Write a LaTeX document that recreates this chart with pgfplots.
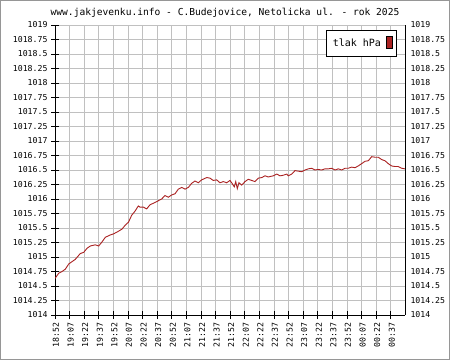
\documentclass[border=0pt]{standalone}
\usepackage{pgfplots}
\pgfplotsset{compat=1.18}
\usepackage{fontspec}
\setmainfont{DejaVu Sans Mono}
\setmonofont{DejaVu Sans Mono}
\definecolor{lred}{RGB}{170,34,34}
\definecolor{gridg}{RGB}{192,192,192}
\definecolor{frameg}{RGB}{150,150,150}
\begin{document}
\begin{tikzpicture}[x=1pt,y=1pt]
\draw[draw=frameg, line width=1pt, fill=white] (0.5,0.5) rectangle (449.5,359.5);
\node[font=\fontsize{9.6}{10}\selectfont] at (225,347) {www.jakjevenku.info - C.Budejovice, Netolicka ul. - rok 2025};
\begin{axis}[
  at={(55pt,45pt)}, anchor=south west,
  scale only axis, width=350pt, height=290pt,
  xmin=0, xmax=359.6, ymin=1014, ymax=1019,
  axis x line=bottom, axis y line=left,
  axis line style={-, line width=1pt, black},
  grid=major, major grid style={gridg, line width=0.9pt},
  xtick={0,15,30,45,60,75,90,105,120,135,150,165,180,195,210,225,240,255,270,285,300,315,330,345},
  xticklabels={18:52,19:07,19:22,19:37,19:52,20:07,20:22,20:37,20:52,21:07,21:22,21:37,21:52,22:07,22:22,22:37,22:52,23:07,23:22,23:37,23:52,00:07,00:22,00:37},
  ytick={1014,1014.25,1014.5,1014.75,1015,1015.25,1015.5,1015.75,1016,1016.25,1016.5,1016.75,1017,1017.25,1017.5,1017.75,1018,1018.25,1018.5,1018.75,1019},
  yticklabels={1014,1014.25,1014.5,1014.75,1015,1015.25,1015.5,1015.75,1016,1016.25,1016.5,1016.75,1017,1017.25,1017.5,1017.75,1018,1018.25,1018.5,1018.75,1019},
  tick align=center, major tick length=8pt,
  tick style={black, line width=0.9pt},
  xticklabel style={rotate=90, anchor=east, font=\fontsize{8.2}{9}\selectfont},
  yticklabel style={font=\fontsize{8.2}{9}\selectfont},
  x tick label style={yshift=-1pt},
  legend style={at={(0.977,0.983)}, anchor=north east, draw=black, line width=0.8pt,
    inner xsep=4pt, inner ysep=6pt, font=\fontsize{10}{11}\selectfont,
    /tikz/every odd column/.append style={column sep=3pt}},
  legend plot pos=right,
  legend image code/.code={\draw[black, line width=0.6pt, fill=lred] (0pt,-5pt) rectangle (6pt,7pt);},
]
\addplot[lred, line width=0.9pt] coordinates {
(0,1014.63)(3.8,1014.72)(7.2,1014.75)(10.6,1014.79)(14.1,1014.88)(17.5,1014.92)(20.9,1014.96)
(26.0,1015.06)(29.5,1015.08)(32.9,1015.15)(36.3,1015.19)(41.4,1015.21)(44.9,1015.19)(48.3,1015.26)
(51.7,1015.34)(56.8,1015.38)(60.3,1015.40)(63.7,1015.43)(68.8,1015.48)(72.2,1015.55)(75.5,1015.60)
(78.8,1015.72)(82.2,1015.79)(85.6,1015.88)(87.3,1015.86)(90.7,1015.86)(94.2,1015.83)(97.6,1015.90)
(102.7,1015.94)(106.1,1015.97)(109.6,1016.00)(113.0,1016.06)(116.4,1016.03)(119.9,1016.07)(123.3,1016.09)
(126.7,1016.17)(130.2,1016.20)(133.6,1016.17)(137.0,1016.20)(140.4,1016.27)(143.8,1016.31)(147.2,1016.28)
(150.7,1016.33)(155.9,1016.37)(159.2,1016.36)(162.6,1016.32)(166.1,1016.33)(169.5,1016.28)(172.9,1016.30)
(176.4,1016.28)(179.8,1016.32)(181.5,1016.28)(184.2,1016.21)(185.7,1016.30)(187.3,1016.18)(189.0,1016.28)
(191.8,1016.24)(195.2,1016.30)(198.6,1016.34)(202.1,1016.32)(205.5,1016.30)(208.9,1016.36)(212.4,1016.37)
(215.8,1016.40)(219.1,1016.38)(224.3,1016.40)(227.8,1016.43)(231.2,1016.40)(234.6,1016.41)(238.1,1016.43)
(239.7,1016.40)(243.2,1016.43)(246.6,1016.49)(250.0,1016.48)(253.5,1016.47)(256.9,1016.50)(260.3,1016.52)
(263.7,1016.53)(267.1,1016.50)(270.5,1016.51)(274.0,1016.50)(277.4,1016.52)(280.8,1016.52)(284.3,1016.53)
(287.7,1016.50)(291.1,1016.52)(294.6,1016.50)(298.0,1016.53)(301.3,1016.53)(304.8,1016.55)(308.2,1016.54)
(311.6,1016.57)(315.1,1016.61)(318.5,1016.65)(321.9,1016.66)(325.4,1016.73)(328.8,1016.72)(332.2,1016.72)
(335.6,1016.68)(339.0,1016.66)(342.4,1016.61)(345.9,1016.57)(349.3,1016.56)(352.7,1016.56)(356.2,1016.53)
(359.6,1016.52)
};
\addlegendentry{tlak hPa}
\end{axis}
\begin{axis}[
  at={(55pt,45pt)}, anchor=south west,
  scale only axis, width=350pt, height=290pt,
  xmin=0, xmax=359.6, ymin=1014, ymax=1019,
  axis x line=none, axis y line=right,
  axis line style={-, line width=1pt, black},
  ytick={1014,1014.25,1014.5,1014.75,1015,1015.25,1015.5,1015.75,1016,1016.25,1016.5,1016.75,1017,1017.25,1017.5,1017.75,1018,1018.25,1018.5,1018.75,1019},
  yticklabels={1014,1014.25,1014.5,1014.75,1015,1015.25,1015.5,1015.75,1016,1016.25,1016.5,1016.75,1017,1017.25,1017.5,1017.75,1018,1018.25,1018.5,1018.75,1019},
  major tick length=0pt,
  yticklabel style={font=\fontsize{8.2}{9}\selectfont, xshift=2pt},
]
\end{axis}
\end{tikzpicture}
\end{document}
